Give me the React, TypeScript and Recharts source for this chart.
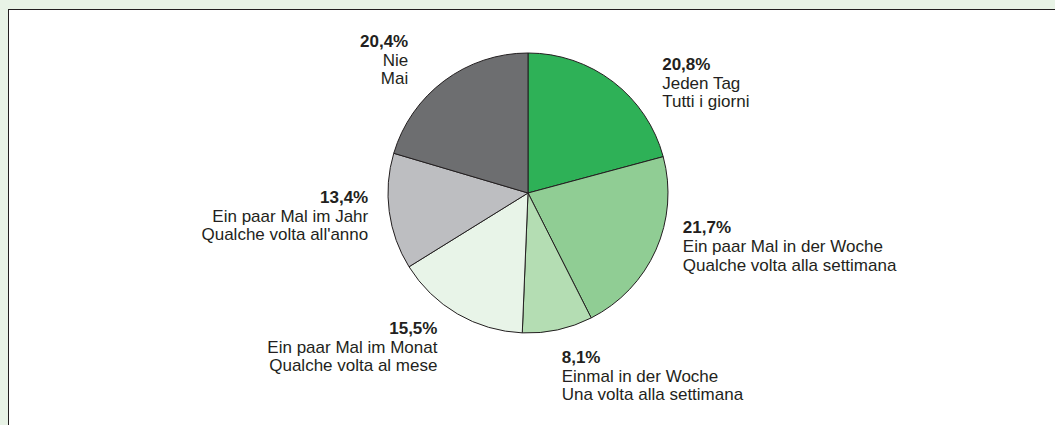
import { PieChart, Pie, Cell } from 'recharts';

const CATEGORIES_DE = [
  'Jeden Tag',
  'Ein paar Mal in der Woche',
  'Einmal in der Woche',
  'Ein paar Mal im Monat',
  'Ein paar Mal im Jahr',
  'Nie',
];
const CATEGORIES_IT = [
  'Tutti i giorni',
  'Qualche volta alla settimana',
  'Una volta alla settimana',
  'Qualche volta al mese',
  "Qualche volta all'anno",
  'Mai',
];
const VALUES = [20.8, 21.7, 8.1, 15.5, 13.4, 20.4];
const COLORS = ['#2eb157', '#90cd94', '#b4ddb3', '#e8f4e8', '#bdbec1', '#6d6e70'];

const TEXT = '#231f20';
const FONT = '"Liberation Sans", Arial, sans-serif';
const RAD = Math.PI / 180;

// where each label block sits relative to the rim point at the slice's mid angle
const LABEL_SHIFT = [
  { dx: 49, dy: -18, anchor: 'start' },
  { dx: 27, dy: -23, anchor: 'start' },
  { dx: 4, dy: 27, anchor: 'start' },
  { dx: -20, dy: 14, anchor: 'end' },
  { dx: -21, dy: -15, anchor: 'end' },
  { dx: -36, dy: -40, anchor: 'end' },
];

const data = VALUES.map((v, i) => ({
  name: CATEGORIES_DE[i],
  it: CATEGORIES_IT[i],
  value: v,
}));

const fmt = (v: number) => v.toFixed(1).replace('.', ',') + '%';

function renderLabel(props: any) {
  const { cx, cy, midAngle, outerRadius, index } = props;
  const s = LABEL_SHIFT[index];
  const x = cx + outerRadius * Math.cos(-midAngle * RAD) + s.dx;
  const y = cy + outerRadius * Math.sin(-midAngle * RAD) + s.dy;
  const d = data[index];
  return (
    <text
      x={x}
      y={y + 6}
      textAnchor={s.anchor}
      fill={TEXT}
      style={{ fontFamily: FONT, fontSize: 17 }}
    >
      <tspan x={x} fontWeight="bold">{fmt(d.value)}</tspan>
      <tspan x={x} dy={19}>{d.name}</tspan>
      <tspan x={x} dy={18.5}>{d.it}</tspan>
    </text>
  );
}

export default function App() {
  return (
    <div style={{ position: 'absolute', left: 0, top: 0, width: 1055, height: 425, background: '#e8f3e6', overflow: 'hidden' }}>
      <div
        style={{
          position: 'absolute',
          left: 8,
          top: 9,
          right: 0,
          bottom: 0,
          background: '#fff',
          borderTop: '1.5px solid #231f20',
          borderLeft: '1.5px solid #231f20',
        }}
      />
      <div style={{ position: 'absolute', left: 0, top: 0 }}>
        <PieChart width={1055} height={425}>
          <Pie
            data={data}
            dataKey="value"
            cx={523}
            cy={188}
            outerRadius={140}
            startAngle={90}
            endAngle={-270}
            stroke={TEXT}
            strokeWidth={1}
            label={renderLabel}
            labelLine={false}
            isAnimationActive={false}
          >
            {data.map((entry, index) => (
              <Cell key={`cell-${index}`} fill={COLORS[index]} />
            ))}
          </Pie>
        </PieChart>
      </div>
    </div>
  );
}
